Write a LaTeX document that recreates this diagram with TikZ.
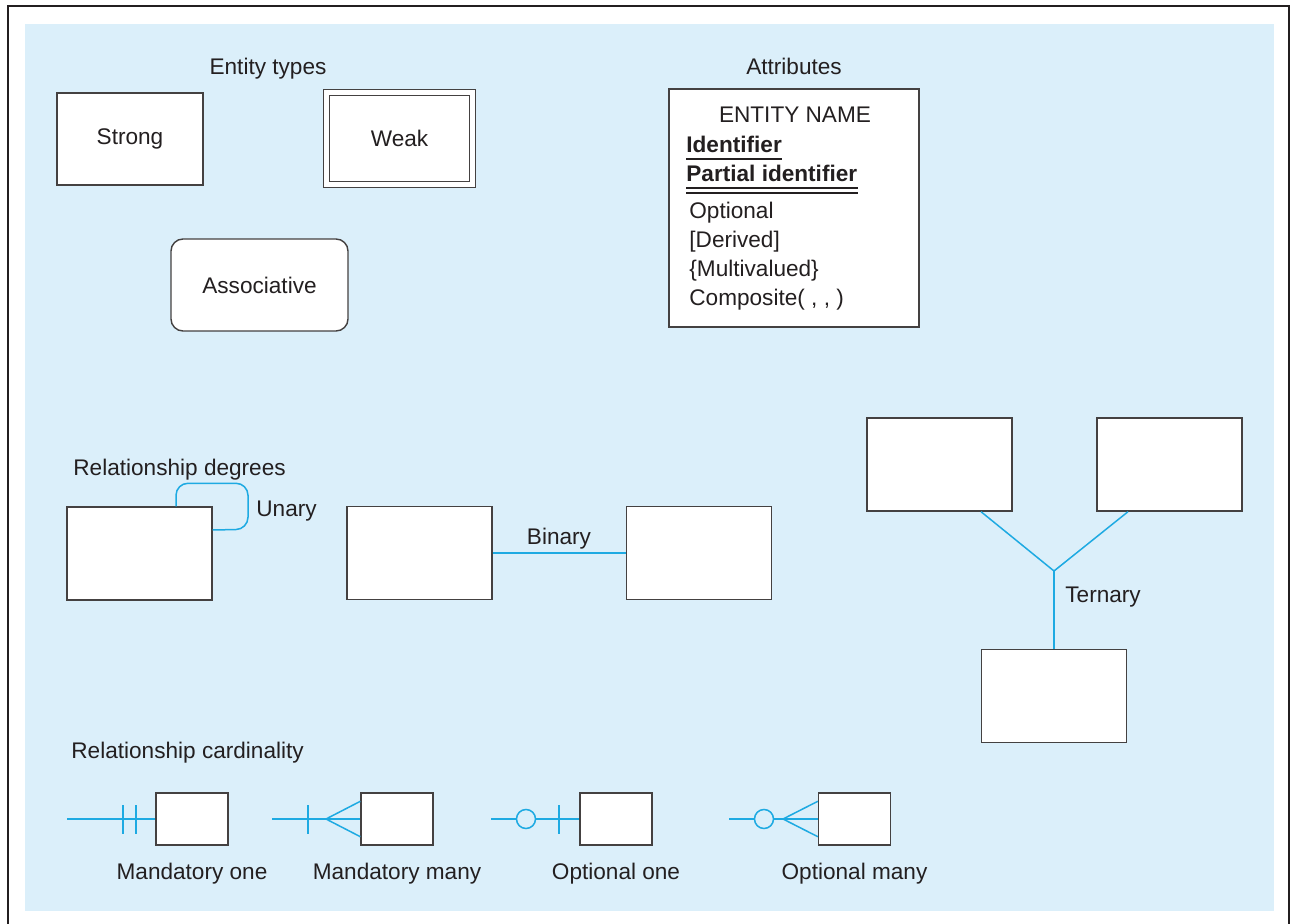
\documentclass[tikz,border=0pt]{standalone}
\usepackage{fontspec}
\setmainfont{Liberation Sans}
\definecolor{bgblue}{RGB}{219,239,250}
\definecolor{relblue}{RGB}{30,170,226}
\definecolor{ink}{RGB}{35,31,32}
\tikzset{
  ent/.style={draw=ink!85, fill=white, text=ink, line width=0.7pt, minimum width=72.5pt, minimum height=46.5pt, inner sep=0pt},
  card/.style={ent, minimum width=36pt, minimum height=26pt},
  rel/.style={draw=relblue, line width=0.75pt},
  ring/.style={circle, draw=relblue, fill=bgblue, line width=0.75pt, minimum size=9.5pt, inner sep=0pt},
  lbl/.style={inner sep=0pt, text=ink},
}

\begin{document}
\begin{tikzpicture}[x=0.5pt, y=-0.5pt, font=\fontsize{11.3}{13.6}\selectfont]
    \useasboundingbox (0,0) rectangle (1291,924);
    \fill[bgblue] (25,24) rectangle (1274,911);
    \draw[ink, line width=1.4pt] (8,924) -- (8,6) -- (1289,6) -- (1289,924);

    % entity types
    \node[lbl, anchor=base] (enttitle) at (268,75) {Entity types};
    \node[ent, minimum width=73pt, minimum height=46pt] (strong) at (130,139) {Strong};
    \node[ent, line width=0.6pt, double=white, double distance=2.2pt, minimum width=73pt, minimum height=46pt] (weak) at (399.5,138.5) {Weak};
    \node[ent, rounded corners=6pt, minimum width=88.5pt, minimum height=46pt] (assoc) at (259.5,285) {Associative};

    % attributes
    \node[lbl, anchor=base] (attrtitle) at (794,75) {Attributes};
    \node[ent, minimum width=125pt, minimum height=119pt] (attrbox) at (794,208) {};
    \node[lbl, anchor=base] (ename) at (795,123) {ENTITY NAME};
    \node[lbl, anchor=base west] (ident) at (686,153) {\bfseries Identifier};
    \node[lbl, anchor=base west] (pident) at (686,182) {\bfseries Partial identifier};
    \draw[ink, line width=0.6pt] ([yshift=-3pt]ident.base west) -- ([yshift=-3pt]ident.base east);
    \draw[ink, line width=0.6pt] ([yshift=-3pt]pident.base west) -- ([yshift=-3pt]pident.base east);
    \draw[ink, line width=0.6pt] ([yshift=-5.5pt]pident.base west) -- ([yshift=-5.5pt]pident.base east);
    \node[lbl, anchor=base west] (optl) at (689,219) {Optional};
    \node[lbl, anchor=base west] (derv) at (689,248) {[Derived]};
    \node[lbl, anchor=base west] (multi) at (689,277) {\{Multivalued\}};
    \node[lbl, anchor=base west] (comp) at (689,306) {Composite( , , )};

    % relationship degrees
    \node[lbl, anchor=base west] (degtitle) at (73,476) {Relationship degrees};
    \node[ent] (unary) at (139.5,553.5) {};
    \draw[rel, rounded corners=6pt] ([xshift=18.25pt]unary.north) -- ++(0,-23) -- ++(72,0) -- ++(0,46) -- ([yshift=11.75pt]unary.east);
    \node[lbl, anchor=base west] (unlbl) at (256,517) {Unary};

    \node[ent] (binl) at (419.5,553) {};
    \node[ent] (binr) at (699,553) {};
    \draw[rel] (binl) -- (binr);
    \node[lbl, anchor=base] (binlbl) at (559,545) {Binary};

    \node[ent] (terl) at (939.5,464.5) {};
    \node[ent] (terr) at (1169.5,464.5) {};
    \node[ent] (terb) at (1054,696) {};
    \coordinate (tjoin) at (1054,571);
    \draw[rel] ([xshift=20.75pt]terl.south) -- (tjoin) -- ([xshift=-20.75pt]terr.south);
    \draw[rel] (tjoin) -- (terb.north);
    \node[lbl, anchor=base west] (terlbl) at (1065,603) {Ternary};

    % relationship cardinality
    \node[lbl, anchor=base west] (cardtitle) at (71,759) {Relationship cardinality};

    \node[card] (mone) at (192,819) {};
    \coordinate (moneend) at (67,819);
    \draw[rel] (moneend) -- (mone.west);
    \foreach \bx in {123,136}
        \draw[rel] (\bx,805) -- (\bx,834);
    \node[lbl, anchor=base] (monelbl) at (192,879) {Mandatory one};

    \node[card] (mmany) at (397,819) {};
    \coordinate (mmanyend) at (272,819);
    \coordinate (mmanycrow) at (326,819);
    \draw[rel] (mmanyend) -- (mmany.west);
    \draw[rel] (308,805) -- (308,834);
    \draw[rel] ([yshift=-4.5pt]mmany.north west) -- (mmanycrow) -- ([yshift=4.5pt]mmany.south west);
    \node[lbl, anchor=base] (mmanylbl) at (397,879) {Mandatory many};

    \node[card] (oone) at (616,819) {};
    \coordinate (ooneend) at (491,819);
    \node[ring] (oonering) at (526,819) {};
    \draw[rel] (ooneend) -- (oonering);
    \draw[rel] (oonering) -- (oone.west);
    \draw[rel] (559,805) -- (559,834);
    \node[lbl, anchor=base] (oonelbl) at (616,879) {Optional one};

    \node[card] (omany) at (854.5,819) {};
    \coordinate (omanyend) at (729,819);
    \coordinate (omanycrow) at (783,819);
    \node[ring] (omanyring) at (764,819) {};
    \draw[rel] (omanyend) -- (omanyring);
    \draw[rel] (omanyring) -- (omany.west);
    \draw[rel] ([yshift=-4.5pt]omany.north west) -- (omanycrow) -- ([yshift=4.5pt]omany.south west);
    \node[lbl, anchor=base] (omanylbl) at (854.5,879) {Optional many};
\end{tikzpicture}
\end{document}
